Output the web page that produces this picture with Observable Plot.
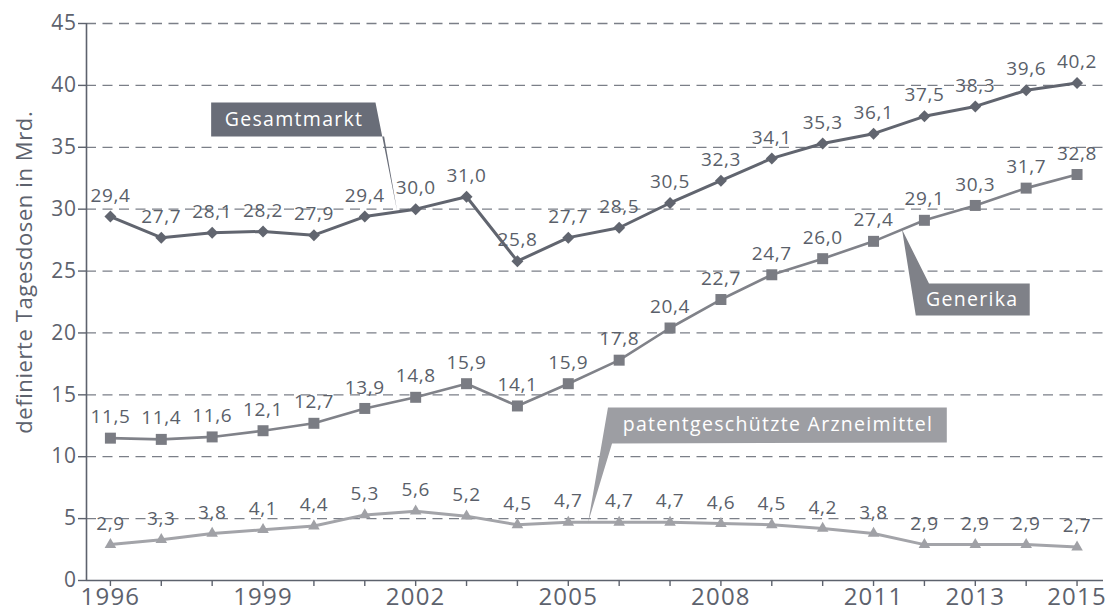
<!DOCTYPE html>
<html><head><meta charset="utf-8">
<script src="https://cdn.jsdelivr.net/npm/d3@7"></script>
<script src="https://cdn.jsdelivr.net/npm/@observablehq/plot@0.6"></script>
<style>body{margin:0;background:#fff}</style>
</head><body><div id="chart"></div>
<script>
// ---- data ----
const years = [1996,1997,1998,1999,2000,2001,2002,2003,2004,2005,2006,2007,2008,2009,2010,2011,2012,2013,2014,2015];
const gesamtmarkt = [29.4,27.7,28.1,28.2,27.9,29.4,30.0,31.0,25.8,27.7,28.5,30.5,32.3,34.1,35.3,36.1,37.5,38.3,39.6,40.2];
const generika = [11.5,11.4,11.6,12.1,12.7,13.9,14.8,15.9,14.1,15.9,17.8,20.4,22.7,24.7,26.0,27.4,29.1,30.3,31.7,32.8];
const patent = [2.9,3.3,3.8,4.1,4.4,5.3,5.6,5.2,4.5,4.7,4.7,4.7,4.6,4.5,4.2,3.8,2.9,2.9,2.9,2.7];
const xLabelYears = [1996,1999,2002,2005,2008,2011,2013,2015];
const yTicks = [0,5,10,15,20,25,30,35,40,45];
const gridTicks = [5,10,15,20,25,30,35,40,45];
const yTitle = "definierte Tagesdosen in Mrd.";
const seriesNames = ["Gesamtmarkt","Generika","patentgeschützte Arzneimittel"];

// callout boxes (data units: year, value)
const calloutGesamt = [[1997.98,38.62],[2001.21,38.62],[2001.64,29.75],[2001.38,35.87],[1997.98,35.87]];
const calloutGenerika = [[2011.56,28.35],[2012.09,23.99],[2014.07,23.99],[2014.07,21.41],[2011.83,21.41]];
const calloutPatent = [[2005.78,13.98],[2012.44,13.98],[2012.44,11.15],[2005.86,11.07],[2005.39,4.7]];
const calloutText = [[1999.61,37.24],[2012.94,22.70],[2009.12,12.55]];

// ---- build ----
const colors = {line:["#61656f","#808289","#a3a4a9"], mark:["#61656f","#7a7c83","#a0a1a6"], box:["#696d78","#7f8188","#9d9ea3"]};
const allSeries = [gesamtmarkt, generika, patent];
const rows = [];
allSeries.forEach((vals, s) => vals.forEach((v, i) => rows.push({series: seriesNames[s], s, year: years[i], value: v})));
const fmt = v => v.toFixed(1).replace(".", ",");
const poly = arr => arr.map(([x,y]) => ({x,y}));
const xDomain = [1995.53, 2015.52];
const axisColor = "#5d626d";

const symbols = ["diamond2","square","triangle"];
const radii = [5.4, 6.2, 4.3];

const marks = [
  Plot.ruleY(gridTicks, {stroke:"#7b7f88", strokeWidth:1.3, strokeDasharray:"10,6.5"}),
  Plot.ruleY([0], {stroke:axisColor, strokeWidth:1.6}),
  Plot.ruleX([xDomain[0]], {stroke:axisColor, strokeWidth:1.6}),
  Plot.axisX({ticks: years, tickSize: 6, tickFormat: () => "", color: axisColor, strokeWidth:1.4}),
  Plot.axisX({ticks: xLabelYears, tickSize: 0, tickPadding: 7, tickFormat: d => String(d), fontSize: 24, color: axisColor, className: "xlab"}),
  Plot.axisY({ticks: yTicks, tickSize: 8, tickPadding: 2, tickFormat: d => String(d), fontSize: 21, color: axisColor, strokeWidth:1.4, label: null}),
  Plot.text([yTitle], {frameAnchor: "left", dx: -62, y: 24.9, rotate: -90, fontSize: 22, fill: axisColor, textAnchor: "middle"}),
];
[2,1,0].forEach(s => {
  const d = rows.filter(r => r.s === s);
  marks.push(Plot.line(d, {x: "year", y: "value", stroke: colors.line[s], strokeWidth: s === 1 ? 2.6 : 3}));
  marks.push(Plot.dot(d, {x: "year", y: "value", symbol: symbols[s], r: radii[s], fill: colors.mark[s], stroke: "none"}));
  marks.push(Plot.text(d, {x: "year", y: "value", text: r => fmt(r.value), dy: -21, fontSize: 19, fill: "#5a5f6a"}));
});
[calloutGesamt, calloutGenerika, calloutPatent].forEach((c, i) => {
  marks.push(Plot.line(poly(c), {x: "x", y: "y", fill: colors.box[i], stroke: "none"}));
});
marks.push(Plot.text(calloutText.map(([x,y], i) => ({x, y, t: seriesNames[i]})), {x: "x", y: "y", text: "t", fill: "white", fontSize: 19.5, textAnchor: "middle", className: "boxlab"}));

const chart = Plot.plot({
  width: 1110, height: 612,
  marginLeft: 86, marginRight: 7, marginTop: 23, marginBottom: 32,
  x: {domain: xDomain, type: "linear"},
  y: {domain: [0, 45]},
  style: {fontFamily: "'Open Sans', sans-serif", fontSize: "19px", background: "#fff", overflow: "visible"},
  marks
});
chart.querySelectorAll("text").forEach(t => t.style.letterSpacing = "0.6px");
chart.querySelectorAll(".boxlab text").forEach(t => t.style.letterSpacing = "1.3px");
chart.querySelectorAll(".xlab text").forEach(t => t.style.letterSpacing = "1.2px");
document.getElementById("chart").appendChild(chart);
</script>
</body></html>
